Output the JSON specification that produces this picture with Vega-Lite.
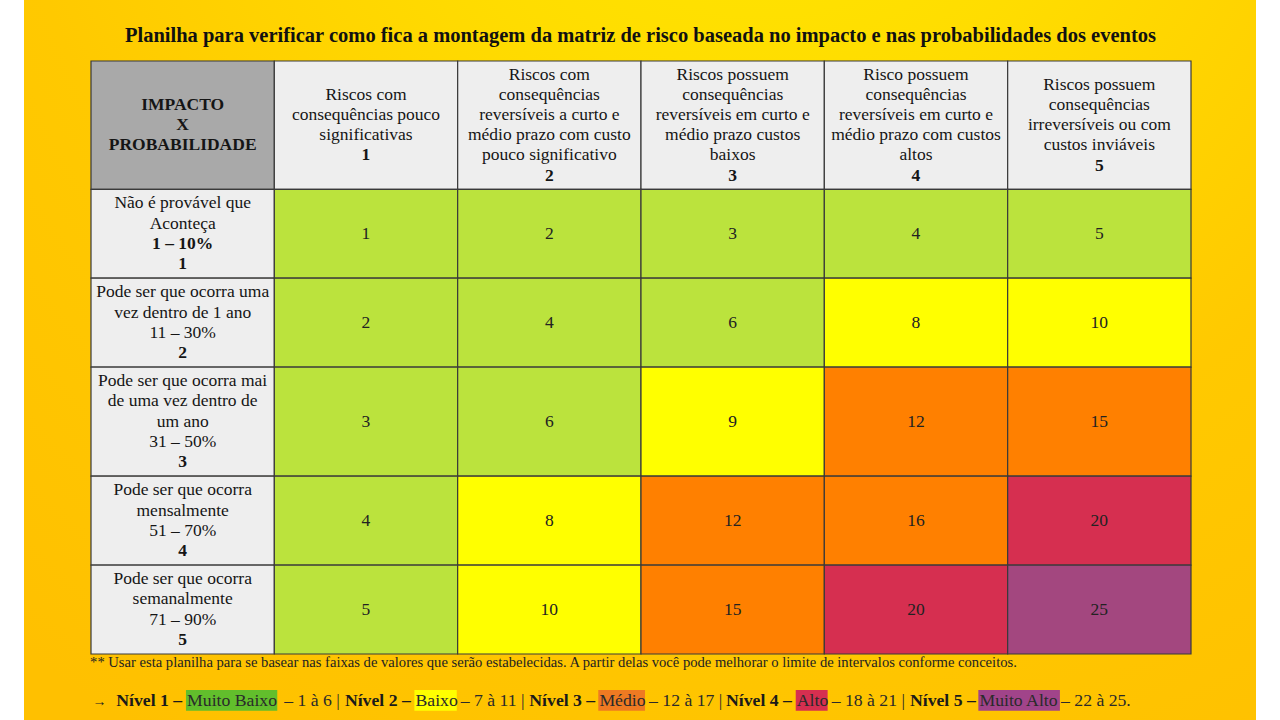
{
  "$schema": "https://vega.github.io/schema/vega-lite/v6.json",
  "width": 1232,
  "height": 720,
  "autosize": {"type": "none"},
  "padding": {"left": 24, "right": 24, "top": 0, "bottom": 0},
  "background": "#FFFFFF",
  "config": {"view": {"stroke": null}, "font": "Liberation Serif"},
  "datasets": {
    "labels": [
      {"r": 0, "c": 0, "t": "IMPACTO", "b": 1},
      {"r": 0, "c": 0, "t": "X", "b": 1},
      {"r": 0, "c": 0, "t": "PROBABILIDADE", "b": 1},
      {"r": 0, "c": 1, "t": "Riscos com"},
      {"r": 0, "c": 1, "t": "consequências pouco"},
      {"r": 0, "c": 1, "t": "significativas"},
      {"r": 0, "c": 1, "t": "1", "b": 1},
      {"r": 0, "c": 2, "t": "Riscos com"},
      {"r": 0, "c": 2, "t": "consequências"},
      {"r": 0, "c": 2, "t": "reversíveis a curto e"},
      {"r": 0, "c": 2, "t": "médio prazo com custo"},
      {"r": 0, "c": 2, "t": "pouco significativo"},
      {"r": 0, "c": 2, "t": "2", "b": 1},
      {"r": 0, "c": 3, "t": "Riscos possuem"},
      {"r": 0, "c": 3, "t": "consequências"},
      {"r": 0, "c": 3, "t": "reversíveis em curto e"},
      {"r": 0, "c": 3, "t": "médio prazo custos"},
      {"r": 0, "c": 3, "t": "baixos"},
      {"r": 0, "c": 3, "t": "3", "b": 1},
      {"r": 0, "c": 4, "t": "Risco possuem"},
      {"r": 0, "c": 4, "t": "consequências"},
      {"r": 0, "c": 4, "t": "reversíveis em curto e"},
      {"r": 0, "c": 4, "t": "médio prazo com custos"},
      {"r": 0, "c": 4, "t": "altos"},
      {"r": 0, "c": 4, "t": "4", "b": 1},
      {"r": 0, "c": 5, "t": "Riscos possuem"},
      {"r": 0, "c": 5, "t": "consequências"},
      {"r": 0, "c": 5, "t": "irreversíveis ou com"},
      {"r": 0, "c": 5, "t": "custos inviáveis"},
      {"r": 0, "c": 5, "t": "5", "b": 1},
      {"r": 1, "c": 0, "t": "Não é provável que"},
      {"r": 1, "c": 0, "t": "Aconteça"},
      {"r": 1, "c": 0, "t": "1 – 10%", "b": 1},
      {"r": 1, "c": 0, "t": "1", "b": 1},
      {"r": 2, "c": 0, "t": "Pode ser que ocorra uma"},
      {"r": 2, "c": 0, "t": "vez dentro de 1 ano"},
      {"r": 2, "c": 0, "t": "11 – 30%"},
      {"r": 2, "c": 0, "t": "2", "b": 1},
      {"r": 3, "c": 0, "t": "Pode ser que ocorra mai"},
      {"r": 3, "c": 0, "t": "de uma vez dentro de"},
      {"r": 3, "c": 0, "t": "um ano"},
      {"r": 3, "c": 0, "t": "31 – 50%"},
      {"r": 3, "c": 0, "t": "3", "b": 1},
      {"r": 4, "c": 0, "t": "Pode ser que ocorra"},
      {"r": 4, "c": 0, "t": "mensalmente"},
      {"r": 4, "c": 0, "t": "51 – 70%"},
      {"r": 4, "c": 0, "t": "4", "b": 1},
      {"r": 5, "c": 0, "t": "Pode ser que ocorra"},
      {"r": 5, "c": 0, "t": "semanalmente"},
      {"r": 5, "c": 0, "t": "71 – 90%"},
      {"r": 5, "c": 0, "t": "5", "b": 1}
    ],
    "cells": [
      {"r": 1, "c": 1, "v": 1}, {"r": 1, "c": 2, "v": 2}, {"r": 1, "c": 3, "v": 3}, {"r": 1, "c": 4, "v": 4}, {"r": 1, "c": 5, "v": 5},
      {"r": 2, "c": 1, "v": 2}, {"r": 2, "c": 2, "v": 4}, {"r": 2, "c": 3, "v": 6}, {"r": 2, "c": 4, "v": 8}, {"r": 2, "c": 5, "v": 10},
      {"r": 3, "c": 1, "v": 3}, {"r": 3, "c": 2, "v": 6}, {"r": 3, "c": 3, "v": 9}, {"r": 3, "c": 4, "v": 12}, {"r": 3, "c": 5, "v": 15},
      {"r": 4, "c": 1, "v": 4}, {"r": 4, "c": 2, "v": 8}, {"r": 4, "c": 3, "v": 12}, {"r": 4, "c": 4, "v": 16}, {"r": 4, "c": 5, "v": 20},
      {"r": 5, "c": 1, "v": 5}, {"r": 5, "c": 2, "v": 10}, {"r": 5, "c": 3, "v": 15}, {"r": 5, "c": 4, "v": 20}, {"r": 5, "c": 5, "v": 25}
    ],
    "notes": [
      {"id": "title", "t": "Planilha para verificar como fica a montagem da matriz de risco baseada no impacto e nas probabilidades dos eventos"},
      {"id": "footnote", "t": "** Usar esta planilha para se basear nas faixas de valores que serão estabelecidas. A partir delas você pode melhorar o limite de intervalos conforme conceitos."},
      {"id": "arrow", "t": "→"}
    ],
    "levels": [
      {"level": 1, "name": "Muito Baixo", "range": "1 à 6"},
      {"level": 2, "name": "Baixo", "range": "7 à 11"},
      {"level": 3, "name": "Médio", "range": "12 à 17"},
      {"level": 4, "name": "Alto", "range": "18 à 21"},
      {"level": 5, "name": "Muito Alto", "range": "22 à 25"}
    ]
  },
  "layer": [
    {
      "data": {"values": [{"bg": 1}]},
      "mark": {
        "type": "rect",
        "color": {
          "gradient": "radial",
          "x1": 0.6, "y1": 0.0, "r1": 0,
          "x2": 0.6, "y2": 0.0, "r2": 0.95,
          "stops": [
            {"offset": 0, "color": "#FFEA00"},
            {"offset": 0.3, "color": "#FFDD00"},
            {"offset": 0.65, "color": "#FFC900"},
            {"offset": 1, "color": "#FFC000"}
          ]
        }
      },
      "encoding": {}
    },
    {
      "data": {"name": "labels"},
      "transform": [
        {"aggregate": [{"op": "count", "as": "nl"}], "groupby": ["r", "c"]},
        {"calculate": "datum.c", "as": "x"},
        {"calculate": "datum.c + 1", "as": "x2"},
        {"calculate": "[0, 6.35, 10.75, 15.15, 20.55, 24.95][datum.r]", "as": "y"},
        {"calculate": "[6.35, 10.75, 15.15, 20.55, 24.95, 29.35][datum.r]", "as": "y2"}
      ],
      "mark": {"type": "rect", "stroke": "#3A3A3A", "strokeWidth": 1.2},
      "encoding": {
        "x": {"field": "x", "type": "quantitative", "scale": {"domain": [-0.36545, 6.35455], "nice": false, "zero": false}, "axis": null},
        "x2": {"field": "x2"},
        "y": {"field": "y", "type": "quantitative", "scale": {"domain": [-3.019, 32.617], "nice": false, "zero": false, "reverse": true}, "axis": null},
        "y2": {"field": "y2"},
        "fill": {"condition": {"test": "datum.r == 0 && datum.c == 0", "value": "#A9A9A9"}, "value": "#EEEEEE"}
      }
    },
    {
      "data": {"name": "cells"},
      "transform": [
        {"calculate": "datum.c", "as": "x"},
        {"calculate": "datum.c + 1", "as": "x2"},
        {"calculate": "[0, 6.35, 10.75, 15.15, 20.55, 24.95][datum.r]", "as": "y"},
        {"calculate": "[6.35, 10.75, 15.15, 20.55, 24.95, 29.35][datum.r]", "as": "y2"}
      ],
      "mark": {"type": "rect", "stroke": "#3A3A3A", "strokeWidth": 1.2},
      "encoding": {
        "x": {"field": "x", "type": "quantitative", "scale": {"domain": [-0.36545, 6.35455], "nice": false, "zero": false}, "axis": null},
        "x2": {"field": "x2"},
        "y": {"field": "y", "type": "quantitative", "scale": {"domain": [-3.019, 32.617], "nice": false, "zero": false, "reverse": true}, "axis": null},
        "y2": {"field": "y2"},
        "fill": {"field": "v", "type": "quantitative", "scale": {"type": "threshold", "domain": [7, 12, 18, 22], "range": ["#BBE33D", "#FFFF00", "#FF8000", "#D62F50", "#A3477F"]}, "legend": null}
      }
    },
    {
      "data": {"name": "cells"},
      "transform": [
        {"calculate": "datum.c + 0.5", "as": "x"},
        {"calculate": "([0, 6.35, 10.75, 15.15, 20.55, 24.95][datum.r] + [6.35, 10.75, 15.15, 20.55, 24.95, 29.35][datum.r]) / 2", "as": "y"}
      ],
      "mark": {"type": "text", "font": "Liberation Serif", "fontSize": 17.5, "baseline": "middle", "align": "center", "color": "#222222"},
      "encoding": {
        "x": {"field": "x", "type": "quantitative", "scale": {"domain": [-0.36545, 6.35455], "nice": false, "zero": false}, "axis": null},
        "y": {"field": "y", "type": "quantitative", "scale": {"domain": [-3.019, 32.617], "nice": false, "zero": false, "reverse": true}, "axis": null},
        "text": {"field": "v", "type": "nominal"}
      }
    },
    {
      "data": {"name": "labels"},
      "transform": [
        {"window": [{"op": "row_number", "as": "k"}], "groupby": ["r", "c"]},
        {"joinaggregate": [{"op": "count", "as": "n"}], "groupby": ["r", "c"]},
        {"calculate": "datum.c + 0.5", "as": "x"},
        {"calculate": "([0, 6.35, 10.75, 15.15, 20.55, 24.95][datum.r] + [6.35, 10.75, 15.15, 20.55, 24.95, 29.35][datum.r]) / 2 + (datum.k - 1 - (datum.n - 1) / 2)", "as": "y"},
        {"filter": "datum.b != 1"}
      ],
      "mark": {"type": "text", "font": "Liberation Serif", "fontSize": 17.5, "baseline": "middle", "align": "center", "color": "#151515"},
      "encoding": {
        "x": {"field": "x", "type": "quantitative", "scale": {"domain": [-0.36545, 6.35455], "nice": false, "zero": false}, "axis": null},
        "y": {"field": "y", "type": "quantitative", "scale": {"domain": [-3.019, 32.617], "nice": false, "zero": false, "reverse": true}, "axis": null},
        "text": {"field": "t", "type": "nominal"}
      }
    },
    {
      "data": {"name": "labels"},
      "transform": [
        {"window": [{"op": "row_number", "as": "k"}], "groupby": ["r", "c"]},
        {"joinaggregate": [{"op": "count", "as": "n"}], "groupby": ["r", "c"]},
        {"calculate": "datum.c + 0.5", "as": "x"},
        {"calculate": "([0, 6.35, 10.75, 15.15, 20.55, 24.95][datum.r] + [6.35, 10.75, 15.15, 20.55, 24.95, 29.35][datum.r]) / 2 + (datum.k - 1 - (datum.n - 1) / 2)", "as": "y"},
        {"filter": "datum.b == 1"}
      ],
      "mark": {"type": "text", "font": "Liberation Serif", "fontSize": 17.5, "fontWeight": "bold", "baseline": "middle", "align": "center", "color": "#151515"},
      "encoding": {
        "x": {"field": "x", "type": "quantitative", "scale": {"domain": [-0.36545, 6.35455], "nice": false, "zero": false}, "axis": null},
        "y": {"field": "y", "type": "quantitative", "scale": {"domain": [-3.019, 32.617], "nice": false, "zero": false, "reverse": true}, "axis": null},
        "text": {"field": "t", "type": "nominal"}
      }
    },
    {
      "data": {"name": "notes"},
      "transform": [
        {"filter": "datum.id == 'title'"},
        {"calculate": "2.997", "as": "x"},
        {"calculate": "-1.237", "as": "y"}
      ],
      "mark": {"type": "text", "font": "Liberation Serif", "fontSize": 20.5, "fontWeight": "bold", "baseline": "middle", "align": "center", "color": "#111111"},
      "encoding": {
        "x": {"field": "x", "type": "quantitative", "scale": {"domain": [-0.36545, 6.35455], "nice": false, "zero": false}, "axis": null},
        "y": {"field": "y", "type": "quantitative", "scale": {"domain": [-3.019, 32.617], "nice": false, "zero": false, "reverse": true}, "axis": null},
        "text": {"field": "t", "type": "nominal"}
      }
    },
    {
      "data": {"name": "notes"},
      "transform": [
        {"filter": "datum.id == 'footnote'"},
        {"calculate": "-0.005", "as": "x"},
        {"calculate": "29.796", "as": "y"}
      ],
      "mark": {"type": "text", "font": "Liberation Serif", "fontSize": 14.6, "baseline": "middle", "align": "left", "color": "#222222"},
      "encoding": {
        "x": {"field": "x", "type": "quantitative", "scale": {"domain": [-0.36545, 6.35455], "nice": false, "zero": false}, "axis": null},
        "y": {"field": "y", "type": "quantitative", "scale": {"domain": [-3.019, 32.617], "nice": false, "zero": false, "reverse": true}, "axis": null},
        "text": {"field": "t", "type": "nominal"}
      }
    },
    {
      "data": {"name": "notes"},
      "transform": [
        {"filter": "datum.id == 'arrow'"},
        {"calculate": "0.008", "as": "x"},
        {"calculate": "31.72", "as": "y"}
      ],
      "mark": {"type": "text", "font": "Liberation Serif", "fontSize": 14, "baseline": "middle", "align": "left", "color": "#222222"},
      "encoding": {
        "x": {"field": "x", "type": "quantitative", "scale": {"domain": [-0.36545, 6.35455], "nice": false, "zero": false}, "axis": null},
        "y": {"field": "y", "type": "quantitative", "scale": {"domain": [-3.019, 32.617], "nice": false, "zero": false, "reverse": true}, "axis": null},
        "text": {"field": "t", "type": "nominal"}
      }
    },
    {
      "data": {"name": "levels"},
      "transform": [
        {"calculate": "[0.518, 1.764, 2.767, 3.844, 4.840][datum.level - 1]", "as": "x"},
        {"calculate": "[1.016, 1.995, 3.022, 4.018, 5.285][datum.level - 1]", "as": "x2"},
        {"calculate": "31.13", "as": "y"},
        {"calculate": "32.16", "as": "y2"}
      ],
      "mark": {"type": "rect"},
      "encoding": {
        "x": {"field": "x", "type": "quantitative", "scale": {"domain": [-0.36545, 6.35455], "nice": false, "zero": false}, "axis": null},
        "x2": {"field": "x2"},
        "y": {"field": "y", "type": "quantitative", "scale": {"domain": [-3.019, 32.617], "nice": false, "zero": false, "reverse": true}, "axis": null},
        "y2": {"field": "y2"},
        "fill": {"field": "level", "type": "nominal", "scale": {"domain": [1, 2, 3, 4, 5], "range": ["#62BE2C", "#FFFF00", "#EF7A22", "#D62F50", "#A1448A"]}, "legend": null}
      }
    },
    {
      "data": {"name": "levels"},
      "transform": [
        {"calculate": "[0.138, 1.385, 2.391, 3.464, 4.467][datum.level - 1]", "as": "x"},
        {"calculate": "31.677", "as": "y"},
        {"calculate": "'Nível ' + datum.level + ' –'", "as": "t"}
      ],
      "mark": {"type": "text", "font": "Liberation Serif", "fontSize": 17.7, "fontWeight": "bold", "baseline": "middle", "align": "left", "color": "#1A1A1A"},
      "encoding": {
        "x": {"field": "x", "type": "quantitative", "scale": {"domain": [-0.36545, 6.35455], "nice": false, "zero": false}, "axis": null},
        "y": {"field": "y", "type": "quantitative", "scale": {"domain": [-3.019, 32.617], "nice": false, "zero": false, "reverse": true}, "axis": null},
        "text": {"field": "t", "type": "nominal"}
      }
    },
    {
      "data": {"name": "levels"},
      "transform": [
        {"calculate": "[0.518, 1.764, 2.767, 3.844, 4.840][datum.level - 1] + 0.006", "as": "x"},
        {"calculate": "31.677", "as": "y"}
      ],
      "mark": {"type": "text", "font": "Liberation Serif", "fontSize": 17.7, "baseline": "middle", "align": "left", "color": "#2A2A2A"},
      "encoding": {
        "x": {"field": "x", "type": "quantitative", "scale": {"domain": [-0.36545, 6.35455], "nice": false, "zero": false}, "axis": null},
        "y": {"field": "y", "type": "quantitative", "scale": {"domain": [-3.019, 32.617], "nice": false, "zero": false, "reverse": true}, "axis": null},
        "text": {"field": "name", "type": "nominal"}
      }
    },
    {
      "data": {"name": "levels"},
      "transform": [
        {"calculate": "[1.054, 2.017, 3.044, 4.040, 5.291][datum.level - 1]", "as": "x"},
        {"calculate": "31.677", "as": "y"},
        {"calculate": "'– ' + datum.range + (datum.level < 5 ? ' |' : '.')", "as": "t"}
      ],
      "mark": {"type": "text", "font": "Liberation Serif", "fontSize": 17.7, "baseline": "middle", "align": "left", "color": "#2A2A2A"},
      "encoding": {
        "x": {"field": "x", "type": "quantitative", "scale": {"domain": [-0.36545, 6.35455], "nice": false, "zero": false}, "axis": null},
        "y": {"field": "y", "type": "quantitative", "scale": {"domain": [-3.019, 32.617], "nice": false, "zero": false, "reverse": true}, "axis": null},
        "text": {"field": "t", "type": "nominal"}
      }
    }
  ],
  "resolve": {"scale": {"fill": "independent"}}
}
